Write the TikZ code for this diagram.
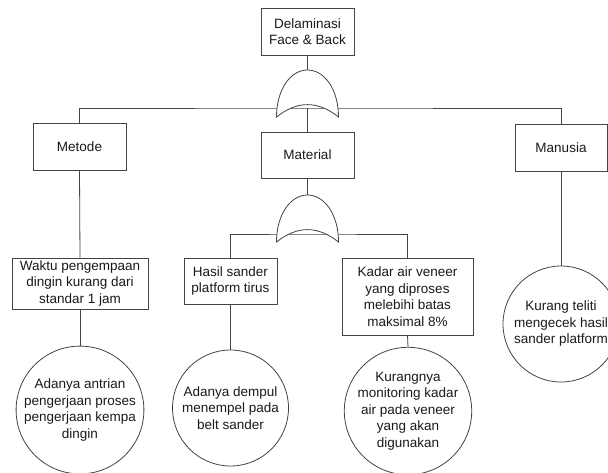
\documentclass[tikz,border=0pt]{standalone}
\usepackage{fontspec}
\setmainfont{Liberation Sans}
\definecolor{linec}{HTML}{444444}
\definecolor{textc}{HTML}{1A1A1A}
\begin{document}
\begin{tikzpicture}[x=1pt,y=-1pt,
  conn/.style={draw=linec, line width=0.8pt},
  txt/.style={align=center, inner sep=0pt, text=textc, font=\fontsize{13.5}{16.5}\selectfont},
  box/.style={txt, draw=linec, fill=white, line width=0.8pt, rectangle},
  evt/.style={txt, draw=linec, fill=white, line width=0.8pt, circle},
  gatebox/.style={inner sep=0pt, minimum width=62pt, minimum height=47pt},
  gate/.style={draw=linec, fill=white, line width=0.8pt}]
\useasboundingbox (0,0) rectangle (608,472);
\clip (0,0) rectangle (608,472);

% nodes
\node[box, minimum width=93pt, minimum height=47pt] (top) at (307.5,31.5) {Delaminasi\\Face \& Back};
\node[gatebox] (g1) at (307.5,93.5) {};
\node[box, minimum width=93pt, minimum height=47pt] (metode) at (79.5,146.5) {Metode};
\node[box, minimum width=93pt, minimum height=46pt] (material) at (307.5,155) {Material};
\node[box, minimum width=92pt, minimum height=47pt] (manusia) at (561,147.5) {Manusia};
\node[gatebox] (g2) at (307.5,218.5) {};
\node[box, minimum width=136pt, minimum height=51pt] (waktu) at (80,283.5) {Waktu pengempaan\\dingin kurang dari\\standar 1 jam};
\node[box, minimum width=93pt, minimum height=46pt] (hasil) at (230.5,281) {Hasil sander\\platform tirus};
\node[box, minimum width=131pt, minimum height=77pt] (kadar) at (407.5,296.5) {Kadar air veneer\\yang diproses\\melebihi batas\\maksimal 8\%};
\node[evt, minimum size=120pt] (antrian) at (80,410) {Adanya antrian\\pengerjaan proses\\pengerjaan kempa\\dingin};
\node[evt, minimum size=116pt] (dempul) at (230.5,408) {Adanya dempul\\menempel pada\\belt sander};
\node[evt, minimum size=120pt] (monitor) at (408,411) {Kurangnya\\monitoring kadar\\air pada veneer\\yang akan\\digunakan};
\node[evt, minimum size=116pt] (teliti) at (561,324) {Kurang teliti\\mengecek hasil\\sander platform};

\coordinate (j1) at (307.5,108);
\coordinate (j2) at (307.5,234);

% connectors
\draw[conn] (top.south) -- (g1.north);
\draw[conn] (metode.north) |- (j1) -| (manusia.north);
\draw[conn] (j1) -- (material.north);
\draw[conn] (material.south) -- (g2.north);
\draw[conn] (hasil.north) |- (j2) -| (kadar.north);
\draw[conn] (metode.south) -- (waktu.north);
\draw[conn] (waktu.south) -- (antrian.north);
\draw[conn] (hasil.south) -- (dempul.north);
\draw[conn] (kadar.south) -- (monitor.north);
\draw[conn] (manusia.south) -- (teliti.north);

% OR gates
\foreach \g in {g1,g2}{
  \begin{scope}[shift={(\g.center)}]
    \path[gate] (-31,23.5) .. controls (-31,-4) and (-17,-23.5) .. (0,-23.5)
      .. controls (17,-23.5) and (31,-4) .. (31,23.5)
      .. controls (10.3,7) and (-10.3,7) .. (-31,23.5) -- cycle;
  \end{scope}
}
\end{tikzpicture}
\end{document}
